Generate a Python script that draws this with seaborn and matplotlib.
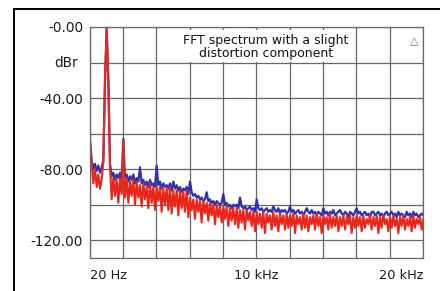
import numpy as np
import pandas as pd
import matplotlib

matplotlib.use("Agg")
import matplotlib.pyplot as plt  # noqa: E402
import matplotlib.transforms as mtransforms  # noqa: E402
import seaborn as sns  # noqa: E402
from matplotlib.patches import Rectangle  # noqa: E402

# FFT bins: first bin at 20 Hz, 100 Hz apart
BIN_START_HZ = 20
BIN_STEP_HZ = 100

# channel with the extra spurs (drawn underneath)
blue_db = [
    -64, -75, -80, -77, -81, -78, -82, -79, -75, -30,
    -1, -30, -77, -84, -82, -86, -83, -85, -82, -86,
    -63, -85, -83, -87, -84, -86, -83, -88, -85, -87,
    -79, -88, -86, -89, -87, -90, -86, -89, -88, -90,
    -78, -89, -87, -91, -88, -90, -89, -91, -88, -92,
    -87, -91, -89, -92, -90, -93, -91, -92, -90, -94,
    -87, -93, -95, -94, -96, -95, -97, -96, -98, -97,
    -93, -98, -97, -99, -98, -100, -98, -99, -100, -99,
    -94, -100, -99, -101, -100, -102, -100, -101, -100, -102,
    -96, -101, -102, -101, -103, -102, -101, -103, -102, -104,
    -97, -102, -103, -102, -104, -103, -102, -104, -103, -104,
    -101, -103, -104, -102, -105, -103, -104, -103, -105, -104,
    -101, -104, -103, -105, -104, -103, -105, -104, -106, -104,
    -102, -104, -105, -103, -105, -104, -106, -104, -105, -106,
    -102, -105, -104, -106, -104, -105, -103, -106, -105, -104,
    -103, -105, -106, -104, -105, -107, -104, -105, -106, -104,
    -102, -105, -104, -106, -105, -104, -106, -105, -107, -104,
    -104, -106, -105, -104, -106, -105, -107, -105, -104, -106,
    -105, -104, -106, -105, -107, -104, -106, -105, -106, -107,
    -104, -106, -105, -107, -104, -106, -105, -107, -106, -105,
    -106,
]

# cleaner channel (drawn on top)
red_db = [
    -65, -77, -88, -80, -90, -83, -91, -86, -76, -30,
    -1, -30, -78, -97, -85, -95, -86, -99, -85, -94,
    -64, -96, -86, -99, -87, -95, -86, -100, -87, -96,
    -89, -101, -88, -97, -90, -102, -88, -99, -90, -103,
    -90, -98, -90, -104, -91, -100, -91, -103, -90, -105,
    -92, -101, -92, -106, -92, -102, -93, -104, -92, -107,
    -96, -103, -97, -108, -97, -104, -98, -110, -98, -105,
    -99, -109, -99, -106, -100, -111, -100, -107, -101, -110,
    -101, -108, -101, -112, -102, -109, -102, -111, -102, -113,
    -103, -110, -103, -114, -103, -109, -104, -112, -104, -115,
    -104, -111, -105, -113, -104, -116, -105, -110, -106, -114,
    -104, -112, -106, -115, -105, -111, -106, -114, -105, -113,
    -106, -112, -105, -116, -106, -111, -107, -114, -105, -113,
    -106, -115, -107, -111, -106, -114, -105, -112, -107, -116,
    -106, -111, -107, -114, -105, -113, -107, -112, -106, -115,
    -107, -112, -106, -114, -107, -111, -106, -116, -107, -113,
    -106, -112, -107, -115, -106, -113, -108, -111, -106, -114,
    -107, -112, -106, -116, -107, -113, -106, -111, -108, -115,
    -107, -113, -106, -112, -108, -116, -107, -112, -106, -114,
    -108, -112, -107, -115, -106, -113, -108, -111, -107, -114,
    -108,
]

y_ticks = [0, -20, -40, -60, -80, -100, -120]
y_labels = ["-0.00", "", "-40.00", "", "-80.00", "", "-120.00"]
y_unit = "dBr"
x_ticks = [20, 2000, 4000, 6000, 8000, 10000, 12000, 14000, 16000, 18000, 20000]
x_labels = ["20 Hz", "", "", "", "", "10 kHz", "", "", "", "", "20 kHz"]

title = "FFT spectrum with a slight\ndistortion component"

BLUE = "#3431a6"
RED = "#e8261c"
GRID = "#666666"

freq_hz = BIN_START_HZ + BIN_STEP_HZ * np.arange(len(blue_db))
df = pd.DataFrame({"freq": freq_hz, "blue": blue_db, "red": red_db})

sns.set_style("white")
plt.rcParams["font.family"] = ["DejaVu Sans"]

fig = plt.figure(figsize=(4.4, 2.91), dpi=100)
ax = fig.add_axes([90 / 440, 1 - 258 / 291, 333 / 440, 231 / 291])

sns.lineplot(data=df, x="freq", y="blue", ax=ax, color=BLUE, linewidth=1.6)
sns.lineplot(data=df, x="freq", y="red", ax=ax, color=RED, linewidth=1.5)

ax.set_xlim(20, 20000)
ax.set_ylim(-130, 0)
ax.set_xticks(x_ticks)
ax.set_xticklabels(x_labels)
ax.set_yticks(y_ticks)
ax.set_yticklabels(y_labels)
ax.set_xlabel("")
ax.set_ylabel("")
ax.grid(True, color=GRID, linewidth=0.9)
ax.set_axisbelow(True)
for s in ax.spines.values():
    s.set_color(GRID)
    s.set_linewidth(0.9)
ax.tick_params(axis="both", length=3, color=GRID, labelcolor="#1a1a1a")
ax.tick_params(axis="y", labelsize=9.8, pad=2)
ax.tick_params(axis="x", labelsize=9.3, pad=5)
xl = ax.get_xticklabels()
xl[0].set_ha("left")
xl[-1].set_ha("right")

# unit label sits in the tick label column
trans = mtransforms.blended_transform_factory(ax.transAxes, ax.transData)
ax.text(-0.072, -20, y_unit, transform=trans, ha="center", va="center",
        fontsize=9.8, color="#1a1a1a")

# white box behind the caption hides the grid
ax.add_patch(Rectangle((0.204, 0.848), 0.586, 0.139, transform=ax.transAxes,
                       facecolor="white", edgecolor="none", zorder=3))
ax.text(0.528, 0.968, title, transform=ax.transAxes, ha="center", va="top",
        fontsize=9, color="#111111", linespacing=0.95, zorder=5)
ax.text(0.985, 0.962, "\u25b3", transform=ax.transAxes, ha="right", va="top",
        fontsize=8, color="#777777")

# outer frame of the original figure panel
fig.patches.append(Rectangle((14 / 440, -0.1), 1.2, 1 - 9 / 291 + 0.1,
                             transform=fig.transFigure, fill=False,
                             edgecolor="black", linewidth=1.4))

fig.savefig("out.png", dpi=100)
